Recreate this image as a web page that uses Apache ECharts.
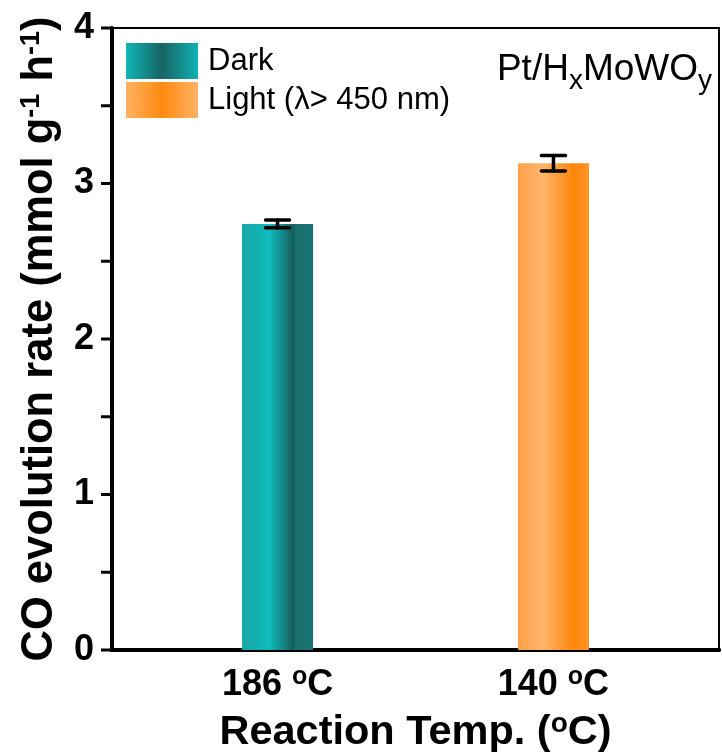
<!DOCTYPE html>
<html>
<head>
<meta charset="utf-8">
<script src="https://cdn.jsdelivr.net/npm/echarts@6/dist/echarts.min.js"></script>
<style>html,body{margin:0;padding:0;background:#fff}#c{width:722px;height:753px}</style>
</head>
<body>
<div id="c"></div>
<script>
// ---- data ----
const categories = ['186 {sup|o}C', '140 {sup|o}C'];
const categoryPos = [1, 2];
const seriesNames = ['Dark', 'Light (λ> 450 nm)'];
const values = [2.74, 3.13];
const errors = [0.025, 0.05];
const yTickLabels = [0, 1, 2, 3, 4];
const yTickMarks = [0, 0.5, 1, 1.5, 2, 2.5, 3, 3.5, 4];

const FONT = 'Arial, "Liberation Sans", sans-serif';
const X_MIN = 0.4, X_MAX = 2.6;
const G = echarts.graphic.LinearGradient;
const barColors = [
  new G(0, 0, 1, 0, [
    {offset: 0, color: '#18a6a6'}, {offset: 0.38, color: '#0fbbbb'},
    {offset: 0.55, color: '#13908f'}, {offset: 0.71, color: '#166060'},
    {offset: 0.72, color: '#125858'}, {offset: 0.74, color: '#1b6d6d'},
    {offset: 1, color: '#1a7474'}]),
  new G(0, 0, 1, 0, [
    {offset: 0, color: '#ffa04a'}, {offset: 0.35, color: '#ffb56c'},
    {offset: 0.75, color: '#ff8a12'}, {offset: 0.76, color: '#ff8608'},
    {offset: 1, color: '#ff9326'}])
];
const swatchColors = [
  new G(0, 0, 1, 0, [
    {offset: 0, color: '#10b6b6'}, {offset: 0.5, color: '#176464'}, {offset: 1, color: '#12b2b2'}]),
  new G(0, 0, 1, 0, [
    {offset: 0, color: '#ffb264'}, {offset: 0.5, color: '#ff8a10'}, {offset: 1, color: '#ffb264'}])
];

const chart = echarts.init(document.getElementById('c'), null, {renderer: 'canvas'});

const series = [];
seriesNames.forEach((name, i) => {
  series.push({
    name: name,
    type: 'bar',
    barWidth: 71,
    barGap: '-100%',
    data: [[categoryPos[i], values[i]]],
    itemStyle: {color: barColors[i]},
    z: 2
  });
});
series.push({
  type: 'custom',
  name: 'err',
  z: 5,
  data: values.map((v, i) => [categoryPos[i], v - errors[i], v + errors[i]]),
  renderItem: function (params, api) {
    const x = api.value(0);
    const lo = api.coord([x, api.value(1)]);
    const hi = api.coord([x, api.value(2)]);
    const hw = 12;
    const st = {stroke: '#000', lineWidth: 3.5, lineCap: 'round'};
    return {
      type: 'group',
      children: [
        {type: 'line', shape: {x1: lo[0], y1: lo[1], x2: hi[0], y2: hi[1]}, style: st},
        {type: 'line', shape: {x1: lo[0] - hw, y1: lo[1], x2: lo[0] + hw, y2: lo[1]}, style: st},
        {type: 'line', shape: {x1: hi[0] - hw, y1: hi[1], x2: hi[0] + hw, y2: hi[1]}, style: st}
      ]
    };
  }
});
// outward y-axis tick marks
series.push({
  type: 'custom',
  name: 'yticks',
  z: 6,
  clip: false,
  silent: true,
  data: yTickMarks.map(v => [X_MIN, v]),
  renderItem: function (params, api) {
    const p = api.coord([api.value(0), api.value(1)]);
    return {
      type: 'line',
      shape: {x1: p[0] - 11, y1: p[1], x2: p[0], y2: p[1]},
      style: {stroke: '#000', lineWidth: 3}
    };
  }
});

const supStyle = (fs, pad) => ({fontFamily: FONT, fontSize: fs, fontWeight: 'bold', color: '#000', padding: [0, 0, pad, 0]});

chart.setOption({
  animation: false,
  backgroundColor: '#fff',
  textStyle: {fontFamily: FONT},
  title: {
    text: 'Pt/H{sub|x}MoWO{sub|y}',
    right: 5, top: 40,
    textStyle: {
      fontFamily: FONT, fontSize: 37, fontWeight: 'normal', color: '#000',
      rich: {sub: {fontFamily: FONT, fontSize: 28, padding: [22, 0, 0, 0], color: '#000'}}
    }
  },
  legend: {
    orient: 'vertical',
    left: 126, top: 43,
    padding: 0,
    itemGap: 3,
    itemWidth: 72, itemHeight: 36,
    icon: 'rect',
    data: seriesNames.map((n, i) => ({name: n, itemStyle: {color: swatchColors[i]}})),
    textStyle: {fontFamily: FONT, fontSize: 31, color: '#000', padding: [0, 0, 0, 5], lineHeight: 36}
  },
  grid: {
    left: 112, right: 3, top: 28, bottom: 103,
    show: true, borderColor: '#000', borderWidth: 2,
    containLabel: false, outerBoundsMode: 'none'
  },
  xAxis: [{
    type: 'value',
    min: X_MIN, max: X_MAX,
    splitLine: {show: false},
    axisTick: {show: false},
    axisLine: {show: true, onZero: false, lineStyle: {color: '#000', width: 4}},
    axisLabel: {
      customValues: categoryPos,
      formatter: v => categories[categoryPos.indexOf(v)] || '',
      fontFamily: FONT, fontSize: 36, fontWeight: 'bold', color: '#000', margin: 15,
      rich: {sup: supStyle(25, 16)}
    },
    name: 'Reaction Temp. ({sup|o}C)',
    nameLocation: 'middle',
    nameGap: 60,
    nameTextStyle: {
      fontFamily: FONT, fontSize: 41.5, fontWeight: 'bold', color: '#000',
      rich: {sup: supStyle(28, 18)}
    }
  }, {
    type: 'value', position: 'top', min: X_MIN, max: X_MAX,
    axisLine: {show: true, lineStyle: {color: '#000', width: 4}},
    axisTick: {show: false}, axisLabel: {show: false}, splitLine: {show: false}
  }],
  yAxis: {
    type: 'value',
    min: 0, max: 4, interval: 1,
    splitLine: {show: false},
    axisLine: {show: true, onZero: false, lineStyle: {color: '#000', width: 4}},
    axisTick: {show: false},
    axisLabel: {
      formatter: v => (yTickLabels.indexOf(v) >= 0 ? String(v) : ''),
      fontFamily: FONT, fontSize: 36, fontWeight: 'bold', color: '#000', margin: 18
    },
    name: 'CO evolution rate (mmol g{sup|-1} h{sup|-1})',
    nameLocation: 'middle',
    nameGap: 50,
    nameTextStyle: {
      fontFamily: FONT, fontSize: 43.5, fontWeight: 'bold', color: '#000',
      rich: {sup: supStyle(27, 16)}
    }
  },
  series: series
});
</script>
</body>
</html>
